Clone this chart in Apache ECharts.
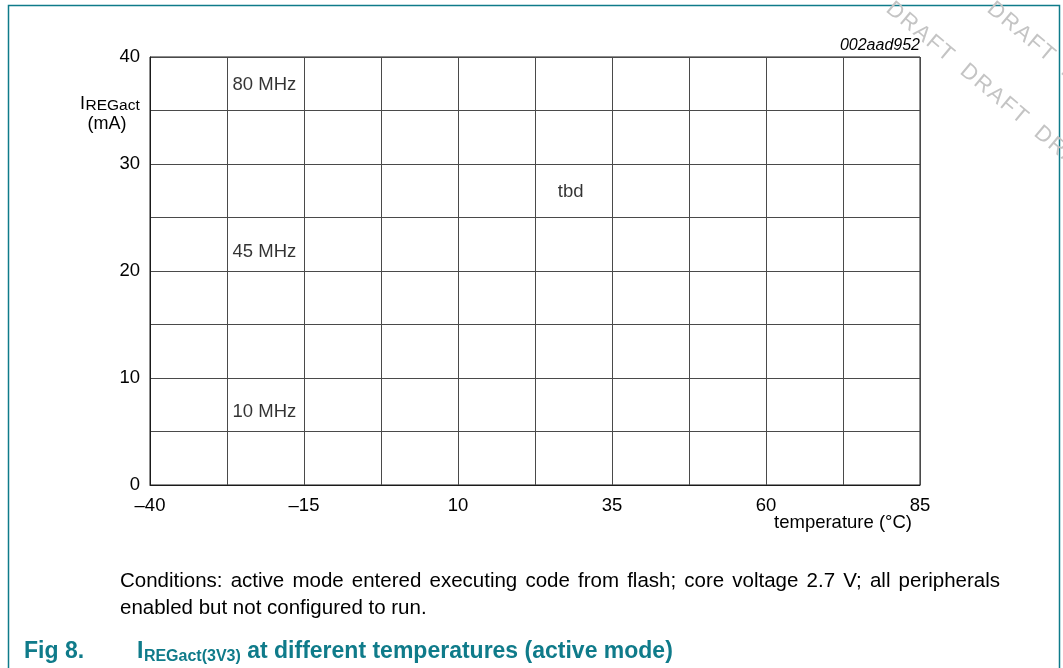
<!DOCTYPE html>
<html><head><meta charset="utf-8">
<script src="https://cdn.jsdelivr.net/npm/echarts@6/dist/echarts.min.js"></script>
<style>html,body{margin:0;padding:0;background:#fff}#c{width:1063px;height:668px}</style>
</head><body><div id="c"></div>
<script>
// ---- data ----
const xMin = -40, xMax = 85, xStep = 12.5;
const xTickLabels = [-40, -15, 10, 35, 60, 85];
const yMin = 0, yMax = 40, yStep = 5;
const yTickLabels = [0, 10, 20, 30, 40];
const freqLabels = ['80 MHz', '45 MHz', '10 MHz'];
const freqX = [-26.6, -26.6, -26.6];
const freqY = [37.4, 21.8, 6.8];
const noteLabels = ['tbd'];
const noteX = [28.3];
const noteY = [27.4];
const figCode = '002aad952';
const xName = 'temperature (\u00B0C)';
const yNameMain = 'I', yNameSub = 'REGact', yUnit = '(mA)';
const caption1 = 'Conditions: active mode entered executing code from flash; core voltage 2.7 V; all peripherals';
const caption2 = 'enabled but not configured to run.';
const figNo = 'Fig 8.';
const titleMain = 'I', titleSub = 'REGact(3V3)', titleRest = ' at different temperatures (active mode)';
const watermarkWord = 'DRAFT';

// ---- helpers ----
const FF = "'Liberation Sans', Arial, Helvetica, sans-serif";
const TEAL = '#0f7b8a';
const cv = document.createElement('canvas').getContext('2d');
function tw(t, font) { cv.font = font; return cv.measureText(t).width; }
const near = (a, b) => Math.abs(a - b) < 1e-6;

const chart = echarts.init(document.getElementById('c'), null, { renderer: 'canvas' });

const titleFontMain = 'bold 23px ' + FF;
const titleFontSub = 'bold 16px ' + FF;
const tx0 = 137;
const tx1 = tx0 + tw(titleMain, titleFontMain) + 0.5;
const tx2 = tx1 + tw(titleSub, titleFontSub);

const capFont = '20.5px ' + FF;
const capLeft = 120, capRight = 1000;

const graphics = [
  { type: 'rect', silent: true, shape: { x: 8.5, y: 5.5, width: 1051, height: 720 },
    style: { fill: 'none', stroke: TEAL, lineWidth: 1.5 } },
  { type: 'text', x: 920, y: 46, style: { text: figCode, font: 'italic 16px ' + FF, fill: '#000', align: 'right', verticalAlign: 'middle' } },
  { type: 'text', x: 80, y: 104, style: { text: yNameMain, font: '18px ' + FF, fill: '#000', align: 'left', verticalAlign: 'middle' } },
  { type: 'text', x: 80 + tw(yNameMain, '18px ' + FF) + 0.5, y: 106, style: { text: yNameSub, font: '15.5px ' + FF, fill: '#000', align: 'left', verticalAlign: 'middle' } },
  { type: 'text', x: 107, y: 124, style: { text: yUnit, font: '18px ' + FF, fill: '#000', align: 'center', verticalAlign: 'middle' } },
  { type: 'text', x: 912, y: 523, style: { text: xName, font: '18.5px ' + FF, fill: '#000', align: 'right', verticalAlign: 'middle' } },
  { type: 'text', x: capLeft, y: 608, style: { text: caption2, font: capFont, fill: '#000', align: 'left', verticalAlign: 'middle' } },
  { type: 'text', x: 24, y: 652, style: { text: figNo, font: titleFontMain, fill: TEAL, align: 'left', verticalAlign: 'middle' } },
  { type: 'text', x: tx0, y: 652, style: { text: titleMain, font: titleFontMain, fill: TEAL, align: 'left', verticalAlign: 'middle' } },
  { type: 'text', x: tx1, y: 657, style: { text: titleSub, font: titleFontSub, fill: TEAL, align: 'left', verticalAlign: 'middle' } },
  { type: 'text', x: tx2, y: 652, style: { text: titleRest, font: titleFontMain, fill: TEAL, align: 'left', verticalAlign: 'middle' } }
];

// justified first caption line
(function () {
  const words = caption1.split(' ');
  const widths = words.map(w => tw(w, capFont));
  const total = widths.reduce((a, b) => a + b, 0);
  const gap = (capRight - capLeft - total) / (words.length - 1);
  let x = capLeft;
  words.forEach((w, i) => {
    graphics.push({ type: 'text', x: x, y: 581, style: { text: w, font: capFont, fill: '#000', align: 'left', verticalAlign: 'middle' } });
    x += widths[i] + gap;
  });
})();

// watermark
(function () {
  const hs = '\u200A';
  const word = watermarkWord.split('').join(hs);
  const text = [word, word, word, word].join(hs + '  ' + hs);
  const rot = -40 * Math.PI / 180;
  [[889, 6], [990, 6]].forEach(p => {
    graphics.push({ type: 'text', x: p[0], y: p[1], rotation: rot, silent: true,
      style: { text: text, font: '22px ' + FF, fill: '#c4c4c4', align: 'left', verticalAlign: 'middle' } });
  });
})();

const lab = { color: '#000', fontFamily: FF, fontSize: 18.5 };

const option = {
  animation: false,
  backgroundColor: '#fff',
  grid: { left: 150, right: 143, top: 57, bottom: 183, show: true, borderColor: '#1a1a1a', borderWidth: 1, backgroundColor: 'transparent' },
  xAxis: {
    type: 'value', min: xMin, max: xMax, interval: xStep,
    axisLine: { show: true, onZero: false, lineStyle: { color: '#1a1a1a', width: 1 } },
    axisTick: { show: false },
    splitLine: { show: true, lineStyle: { color: '#4a4a4a', width: 1 } },
    axisLabel: Object.assign({}, lab, { margin: 11,
      formatter: v => xTickLabels.some(t => near(t, v)) ? (v < 0 ? '\u2013' + Math.abs(v) : String(v)) : '' })
  },
  yAxis: {
    type: 'value', min: yMin, max: yMax, interval: yStep,
    axisLine: { show: true, onZero: false, lineStyle: { color: '#1a1a1a', width: 1 } },
    axisTick: { show: false },
    splitLine: { show: true, lineStyle: { color: '#4a4a4a', width: 1 } },
    axisLabel: Object.assign({}, lab, { margin: 10,
      formatter: v => yTickLabels.some(t => near(t, v)) ? String(v) : '' })
  },
  series: [
    {
      type: 'scatter', silent: true, symbolSize: 0,
      data: freqLabels.map((t, i) => ({ value: [freqX[i], freqY[i]], name: t })),
      label: { show: true, position: 'right', distance: 0, formatter: p => p.name, color: '#000', fontFamily: FF, fontSize: 18.5 }
    },
    {
      type: 'scatter', silent: true, symbolSize: 0,
      data: noteLabels.map((t, i) => ({ value: [noteX[i], noteY[i]], name: t })),
      label: { show: true, position: 'inside', formatter: p => p.name, color: '#000', fontFamily: FF, fontSize: 18.5 }
    }
  ],
  graphic: graphics
};
chart.setOption(option);
</script>
</body></html>
